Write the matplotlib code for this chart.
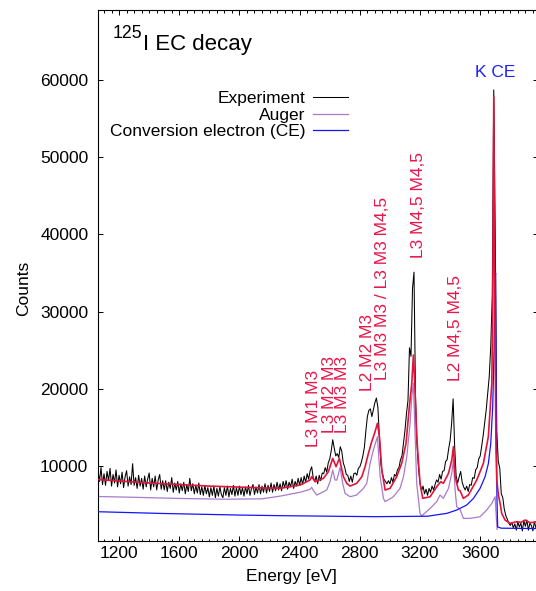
import numpy as np
import matplotlib
matplotlib.use('Agg')
import matplotlib.pyplot as plt
from matplotlib.ticker import MultipleLocator

plt.rcParams['font.family'] = ['Liberation Sans', 'DejaVu Sans']

# Experimental spectrum, 10 eV channels from 1060 eV
exp_start = 1060
exp_step = 10
exp_counts = [
    9400, 8000, 9800, 7600, 9000, 7500, 9300, 8100, 9700, 7400,
    8900, 7800, 9500, 7300, 8800, 7700, 9200, 7200, 8600, 9400,
    7400, 8600, 7600, 10300, 7500, 8500, 7100, 8800, 7400, 8400,
    7000, 8700, 7300, 8300, 9100, 6900, 8400, 7300, 8700, 6900,
    8200, 8900, 7000, 8100,
    6900, 8100, 6700, 7900, 7100, 8500, 6600, 7800, 6900, 8000,
    6500, 7700, 6800, 7900, 6400, 7600, 6700, 8400, 6800, 7700,
    6400, 7500, 6500, 7800, 6300, 7300, 6200, 7500, 6400, 7200,
    6000, 7200, 6200, 7400, 5900, 7100, 6100, 7300, 6300, 5900,
    7200, 6200, 7400, 6000, 7100, 6300, 7500, 6100, 7200, 6200,
    7400, 6300, 7200, 6100, 7300, 6400, 7500, 6200, 7100, 7600,
    6300, 7300, 6500, 7600, 6400, 7400, 6600, 7700, 6500, 7500,
    6700, 7800, 6600, 7600, 6800, 7900, 6900, 7700, 6800, 8000,
    7200, 8100, 7000, 7900, 7300, 8300, 7100, 8000, 7400, 8400,
    7500, 8500, 7600, 8700, 7900, 9000, 8300, 9400, 9900, 8500,
    8000, 8700, 7700, 8800, 8100, 9100, 9000, 9800, 9200, 10400,
    10900, 12000, 13400, 12300, 11300, 11600, 11100, 12500, 11900, 10400,
    9800, 8900, 8800, 8000, 8700, 7900, 9000, 9100, 8800, 9700,
    9900, 10500, 11300, 12400, 14500, 16400, 17200, 17400, 16400, 17300,
    18200, 18800, 17600, 13800, 10300, 9000, 8300, 8000, 7700, 8100,
    7700, 8500, 7900, 8900, 8700, 9500, 9800, 10800, 11300, 12900,
    14600, 16800, 18500, 25300, 24200, 33000, 35100, 19000, 12800, 9700,
    7800, 6800, 7400, 6400, 7000, 6200, 7100, 6600, 7400, 6900,
    7600, 8200, 7900, 8900, 8300, 9300, 9400, 10600, 10800, 12200,
    13300, 15500, 18700, 12600, 8700, 7800, 8600, 9300, 7900, 7300,
    6900, 7400, 6700, 7600, 7500, 8500, 8400, 9500, 9800, 10900,
    11300, 12600, 14000, 15600, 17300, 19400, 21600, 25500, 32000, 58700,
    40000, 14500, 10600, 9700, 6400, 5900, 4400, 3600, 3100, 2600,
    2300, 2700, 2000, 2500, 1700, 2800, 2100, 2600, 1600, 2900,
    2200, 3000, 1700, 2600, 2300, 1600, 2800, 2000, 2500,
]
exp_energy = exp_start + exp_step * np.arange(len(exp_counts))

# Auger contribution
auger_energy = [1060, 1300, 1600, 1900, 2150, 2270, 2403, 2469, 2480, 2492,
                2514, 2580, 2602, 2620, 2635, 2647, 2669, 2686, 2702, 2735,
                2779, 2824, 2846, 2868, 2890, 2917, 2935, 2957, 2968, 3023,
                3067, 3090, 3112, 3134, 3145, 3156, 3167, 3178, 3200, 3211,
                3267, 3311, 3333, 3355, 3389, 3411, 3422, 3433, 3444, 3466,
                3488, 3533, 3599, 3643, 3677, 3699, 3705, 3712]
auger_counts = [6050, 5950, 5800, 5700, 5750, 6100, 6600, 6977, 7235, 6804,
                6243, 6890, 7970, 9480, 8185, 8185, 9825, 7753, 6458, 6026,
                6242, 7105, 7753, 10343, 12070, 13797, 8616, 5810, 5380, 6026,
                7105, 8616, 11210, 15523, 18977, 20704, 14230, 7753, 3867, 3523,
                4515, 5378, 6242, 5810, 7105, 9048, 10775, 6890, 4731, 4385,
                3220, 3220, 3436, 4299, 5163, 6026, 4000, 1800]

# Conversion electron contribution
ce_energy = [1060, 1500, 2000, 2270, 2900, 3250, 3378, 3444, 3510, 3555,
             3599, 3632, 3654, 3670, 3683, 3692, 3698, 3702, 3706, 3711,
             3716, 3740, 3984]
ce_counts = [4080, 3850, 3650, 3570, 3440, 3500, 3870, 4300, 4950, 5800,
             7100, 8600, 10300, 12900, 17700, 25000, 33600, 35000, 20000, 6000,
             2100, 1950, 1900]

# Total fit
fit_energy = [1060, 1400, 1800, 2100, 2270, 2403, 2469, 2480, 2503, 2558,
              2591, 2620, 2642, 2664, 2691, 2713, 2735, 2779, 2813, 2835,
              2857, 2879, 2901, 2917, 2930, 2946, 2968, 3001, 3045, 3078,
              3107, 3129, 3145, 3156, 3165, 3178, 3200, 3218, 3267, 3311,
              3338, 3355, 3389, 3411, 3422, 3433, 3455, 3466, 3488, 3521,
              3577, 3621, 3654, 3677, 3683, 3690, 3697, 3705, 3710, 3721,
              3732, 3743, 3765, 3798, 3843, 3870, 3898, 3931, 3984]
fit_counts = [8250, 7800, 7400, 7200, 7105, 7537, 8185, 8616, 7969, 8400,
              9264, 10991, 9911, 10991, 8616, 7753, 7408, 7753, 8616, 9911,
              11638, 13149, 14444, 15523, 13797, 9480, 6890, 7105, 8616, 10343,
              12934, 17682, 20704, 24373, 20704, 13797, 7753, 5810, 6026, 7321,
              7969, 7753, 9048, 10775, 12502, 8616, 6890, 6804, 5810, 6242,
              8185, 10343, 13797, 20704, 30000, 57800, 30000, 12000, 8186, 6243,
              5164, 3869, 3006, 2574, 2790, 2700, 3006, 2660, 2790]

# Transition labels
peak_labels = ['L3 M1 M3', 'L3 M2 M3', 'L3 M3 M3', 'L2 M2 M3',
               'L3 M3 M3 / L3 M3 M4,5', 'L3 M4,5 M4,5', 'L2 M4,5 M4,5']
label_energy = [2490, 2597, 2687, 2853, 2953, 3187, 3435]
label_counts = [12400, 14300, 14300, 19700, 21200, 37000, 21000]

fig = plt.figure(figsize=(5.36, 5.91), dpi=100)
ax = fig.add_axes([98 / 536, 50 / 591, 440 / 536, 531 / 591])

ax.plot(exp_energy, exp_counts, color='black', lw=0.75, label='Experiment', zorder=1)
ax.plot(auger_energy, auger_counts, color='#a97bc9', lw=0.9, label='Auger', zorder=2)
ax.plot(ce_energy, ce_counts, color='#1414ff', lw=0.9, label='Conversion electron (CE)', zorder=3)
ax.plot(fit_energy, fit_counts, color='#e0143c', lw=1.2, zorder=4)

for txt, e, c in zip(peak_labels, label_energy, label_counts):
    ax.text(e, c, txt, rotation=90, ha='center', va='bottom', color='#e8174a', fontsize=12.5)
ax.text(3698, 61000, 'K CE', ha='center', va='center', color='#1f1fff', fontsize=12.5)

# Title with superscript mass number
ax.text(0.033, 0.948, '125', transform=ax.transAxes, fontsize=12.8, va='baseline')
ax.text(0.102, 0.9247, 'I EC decay', transform=ax.transAxes, fontsize=16, va='baseline')

ax.set_xlim(1060, 3984)
ax.set_ylim(290, 69050)
ax.set_xticks(np.arange(1200, 3700, 400))
ax.xaxis.set_minor_locator(MultipleLocator(50))
ax.set_yticks([10000, 20000, 30000, 40000, 50000, 60000])

ax.tick_params(which='both', direction='in', top=True, right=True, width=0.7)
ax.tick_params(which='major', length=3.6, labelsize=12.5)
ax.tick_params(which='minor', length=1.8)
ax.tick_params(axis='x', pad=3.5)
ax.tick_params(axis='y', pad=7)
for s in ax.spines.values():
    s.set_linewidth(0.8)

ax.set_xlabel('Energy [eV]', fontsize=12.5)
ax.xaxis.set_label_coords(0.439, -0.052)
ax.set_ylabel('Counts', fontsize=12.5)
ax.yaxis.set_label_coords(-0.152, 0.475)

ax.legend(loc='upper right', bbox_to_anchor=(0.568, 0.847), markerfirst=False,
          frameon=False, handlelength=2.0, handletextpad=0.45, labelspacing=0.07,
          borderpad=0, borderaxespad=0, fontsize=12.5)

fig.savefig('out.png', dpi=100)
